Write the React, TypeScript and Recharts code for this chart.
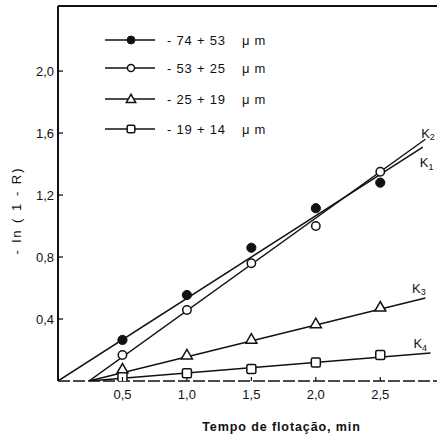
import React from 'react';
import { ComposedChart, Scatter, Line, XAxis, YAxis, ReferenceLine, ReferenceDot, Legend } from 'recharts';

const times = [0.5, 1.0, 1.5, 2.0, 2.5];
const s74 = [0.265, 0.555, 0.86, 1.115, 1.28];
const s53 = [0.168, 0.458, 0.76, 1.0, 1.35];
const s25 = [0.077, 0.168, 0.27, 0.37, 0.477];
const s19 = [0.025, 0.05, 0.077, 0.12, 0.168];

const seriesLabels = ['- 74 + 53', '- 53 + 25', '- 25 + 19', '- 19 + 14'];
const seriesKinds = ['filled', 'circle', 'triangle', 'square'];

const fitK1 = [{ t: 0, v: 0 }, { t: 2.83, v: 1.51 }];
const fitK2 = [{ t: 0.24, v: 0 }, { t: 2.85, v: 1.56 }];
const fitK3 = [{ t: 0.24, v: 0 }, { t: 2.85, v: 0.535 }];
const fitK4 = [{ t: 0.24, v: 0 }, { t: 2.89, v: 0.18 }];

const kLabels = [
  { name: '2', t: 2.87, v: 1.6 },
  { name: '1', t: 2.86, v: 1.41 },
  { name: '3', t: 2.8, v: 0.6 },
  { name: '4', t: 2.81, v: 0.24 },
];

const xTicks = [0.5, 1.0, 1.5, 2.0, 2.5];
const yTicks = [0.4, 0.8, 1.2, 1.6, 2.0];
const xMax = 2.94;
const yMax = 2.42;

const toPts = (vals: number[]) => times.map((t, i) => ({ t, v: vals[i] }));
const allSeries = [s74, s53, s25, s19];

const FONT = '"Liberation Sans", Arial, sans-serif';
const INK = '#111';

const fmt = (v: number) => v.toFixed(1).replace('.', ',');

function Marker({ kind, cx, cy, s = 1 }: { kind: string; cx: number; cy: number; s?: number }) {
  const sw = 1.5;
  if (kind === 'filled') return <circle cx={cx} cy={cy} r={4.6 * s} fill={INK} stroke={INK} strokeWidth={1} />;
  if (kind === 'circle') return <circle cx={cx} cy={cy} r={4.2 * s} fill="#fff" stroke={INK} strokeWidth={sw} />;
  if (kind === 'triangle')
    return (
      <polygon
        points={`${cx},${cy - 5.5 * s} ${cx - 5.5 * s},${cy + 4 * s} ${cx + 5.5 * s},${cy + 4 * s}`}
        fill="#fff"
        stroke={INK}
        strokeWidth={sw}
      />
    );
  return (
    <rect x={cx - 4.5 * s} y={cy - 4.5 * s} width={9 * s} height={9 * s} rx={1.5} fill="#fff" stroke={INK} strokeWidth={sw} />
  );
}

const YTick = (props: any) => {
  const { x, y, payload } = props;
  return (
    <g>
      <line x1={x} x2={x + 5} y1={y} y2={y} stroke={INK} strokeWidth={1.3} />
      <text x={x - 4} y={y} textAnchor="end" dominantBaseline="central" fontFamily={FONT} fontSize={13} fill={INK}>
        {fmt(payload.value)}
      </text>
    </g>
  );
};

const XTick = (props: any) => {
  const { x, y, payload } = props;
  return (
    <g>
      <line x1={x} x2={x} y1={y - 4} y2={y} stroke={INK} strokeWidth={1.2} />
      <text x={x} y={y + 13} textAnchor="middle" dominantBaseline="central" fontFamily={FONT} fontSize={13} fill={INK}>
        {fmt(payload.value)}
      </text>
    </g>
  );
};

const rowYs = [12, 40, 71, 101];

const LegendContent = () => (
  <svg width={220} height={115} style={{ display: 'block' }}>
    {seriesLabels.map((lab, i) => (
      <g key={lab}>
        <line x1={5} x2={55} y1={rowYs[i]} y2={rowYs[i]} stroke={INK} strokeWidth={1.6} />
        <Marker kind={seriesKinds[i]} cx={31} cy={rowYs[i]} s={0.85} />
        <text x={67} y={rowYs[i]} dominantBaseline="central" fontFamily={FONT} fontSize={13} fill={INK} letterSpacing={0.8}>
          {lab}
          <tspan dx={16}>μ m</tspan>
        </text>
      </g>
    ))}
  </svg>
);

export default function App() {
  return (
    <div style={{ position: 'absolute', left: 0, top: 0, background: '#fff' }}>
      <ComposedChart width={437} height={436} margin={{ top: 6, right: 0, bottom: 0, left: 0 }}>
        <XAxis
          type="number"
          dataKey="t"
          domain={[0, xMax]}
          ticks={xTicks}
          allowDataOverflow
          height={55}
          tickSize={0}
          tickMargin={0}
          tick={<XTick />}
          axisLine={{ stroke: INK, strokeWidth: 1.3, strokeDasharray: '12 3' }}
          label={{
            value: 'Tempo de flotação, min',
            position: 'insideBottom',
            dx: 34,
            dy: 0,
            style: { fontFamily: FONT, fontSize: 12.5, fill: INK, letterSpacing: 0.9, fontWeight: 'bold' },
          }}
        />
        <YAxis
          type="number"
          dataKey="v"
          domain={[0, yMax]}
          ticks={yTicks}
          allowDataOverflow
          width={58}
          tickSize={0}
          tickMargin={0}
          tick={<YTick />}
          axisLine={{ stroke: INK, strokeWidth: 2 }}
          label={{
            value: '- ln ( 1 - R)',
            angle: -90,
            position: 'insideLeft',
            dx: 11,
            dy: 17,
            style: { fontFamily: FONT, fontSize: 13, fill: INK, letterSpacing: 2, textAnchor: 'middle' },
          }}
        />
        <ReferenceLine y={yMax} stroke={INK} strokeWidth={2} />
        <Legend
          layout="vertical"
          align="center"
          verticalAlign="middle"
          content={<LegendContent />}
          wrapperStyle={{ position: 'absolute', left: 100, top: 28, width: 220 }}
        />
        <Line data={fitK1} dataKey="v" stroke={INK} strokeWidth={1.5} dot={false} isAnimationActive={false} legendType="none" />
        <Line data={fitK2} dataKey="v" stroke={INK} strokeWidth={1.5} dot={false} isAnimationActive={false} legendType="none" />
        <Line data={fitK3} dataKey="v" stroke={INK} strokeWidth={1.5} dot={false} isAnimationActive={false} legendType="none" />
        <Line data={fitK4} dataKey="v" stroke={INK} strokeWidth={1.5} dot={false} isAnimationActive={false} legendType="none" />
        {allSeries.map((vals, i) => (
          <Scatter
            key={seriesLabels[i]}
            name={seriesLabels[i]}
            data={toPts(vals)}
            dataKey="v"
            isAnimationActive={false}
            shape={(p: any) => <Marker kind={seriesKinds[i]} cx={p.cx} cy={p.cy} />}
          />
        ))}
        {kLabels.map((k) => (
          <ReferenceDot
            key={k.name}
            x={k.t}
            y={k.v}
            r={0}
            ifOverflow="visible"
            shape={(p: any) => (
              <text x={p.cx} y={p.cy} textAnchor="middle" dominantBaseline="central" fontFamily={FONT} fontSize={13} fill={INK}>
                K
                <tspan fontSize={9} dy={4}>{k.name}</tspan>
              </text>
            )}
          />
        ))}
      </ComposedChart>
    </div>
  );
}
